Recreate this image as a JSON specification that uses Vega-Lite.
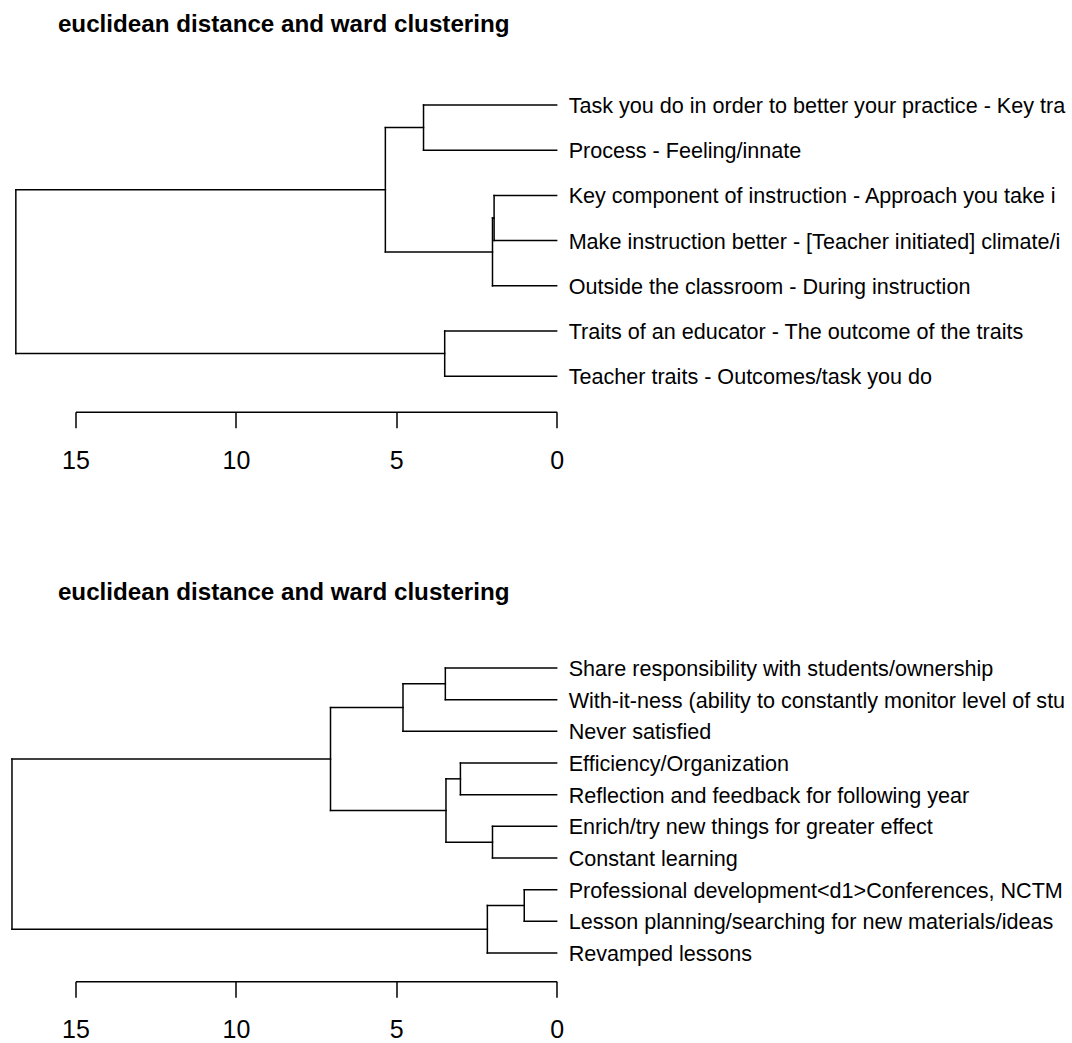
{
  "$schema": "https://vega.github.io/schema/vega-lite/v6.json",
  "background": "white",
  "padding": {"left": 10.5, "top": 12, "right": 0, "bottom": 0},
  "config": {
    "view": {"stroke": null},
    "font": "Liberation Sans",
    "axisX": {
      "title": null,
      "grid": false,
      "labelFont": "Liberation Sans",
      "labelFontSize": 25,
      "labelColor": "black",
      "labelPadding": 20.5,
      "labelFlush": false,
      "labelOverlap": false,
      "tickSize": 16,
      "tickColor": "black",
      "tickWidth": 1.5,
      "domainColor": "black",
      "domainWidth": 1.5
    }
  },
  "bounds": "flush",
  "spacing": 209.3,
  "datasets": {
    "topSeg": [
      {"h": 4.15, "h2": 4.15, "p": 1, "p2": 2},
      {"h": 0, "h2": 4.15, "p": 1, "p2": 1},
      {"h": 0, "h2": 4.15, "p": 2, "p2": 2},
      {"h": 1.95, "h2": 1.95, "p": 3, "p2": 4},
      {"h": 0, "h2": 1.95, "p": 3, "p2": 3},
      {"h": 0, "h2": 1.95, "p": 4, "p2": 4},
      {"h": 2.0, "h2": 2.0, "p": 3.5, "p2": 5},
      {"h": 1.95, "h2": 2.0, "p": 3.5, "p2": 3.5},
      {"h": 0, "h2": 2.0, "p": 5, "p2": 5},
      {"h": 5.34, "h2": 5.34, "p": 1.5, "p2": 4.25},
      {"h": 4.15, "h2": 5.34, "p": 1.5, "p2": 1.5},
      {"h": 2.0, "h2": 5.34, "p": 4.25, "p2": 4.25},
      {"h": 3.49, "h2": 3.49, "p": 6, "p2": 7},
      {"h": 0, "h2": 3.49, "p": 6, "p2": 6},
      {"h": 0, "h2": 3.49, "p": 7, "p2": 7},
      {"h": 16.86, "h2": 16.86, "p": 2.875, "p2": 6.5},
      {"h": 5.34, "h2": 16.86, "p": 2.875, "p2": 2.875},
      {"h": 3.49, "h2": 16.86, "p": 6.5, "p2": 6.5}
    ],
    "topLeaf": [
      {"pos": 1, "label": "Task you do in order to better your practice - Key traits"},
      {"pos": 2, "label": "Process - Feeling/innate"},
      {"pos": 3, "label": "Key component of instruction - Approach you take in instruction"},
      {"pos": 4, "label": "Make instruction better - [Teacher initiated] climate/interactions"},
      {"pos": 5, "label": "Outside the classroom - During instruction"},
      {"pos": 6, "label": "Traits of an educator - The outcome of the traits"},
      {"pos": 7, "label": "Teacher traits - Outcomes/task you do"}
    ],
    "botSeg": [
      {"h": 3.47, "h2": 3.47, "p": 1, "p2": 2},
      {"h": 0, "h2": 3.47, "p": 1, "p2": 1},
      {"h": 0, "h2": 3.47, "p": 2, "p2": 2},
      {"h": 4.79, "h2": 4.79, "p": 1.5, "p2": 3},
      {"h": 3.47, "h2": 4.79, "p": 1.5, "p2": 1.5},
      {"h": 0, "h2": 4.79, "p": 3, "p2": 3},
      {"h": 3.0, "h2": 3.0, "p": 4, "p2": 5},
      {"h": 0, "h2": 3.0, "p": 4, "p2": 4},
      {"h": 0, "h2": 3.0, "p": 5, "p2": 5},
      {"h": 2.0, "h2": 2.0, "p": 6, "p2": 7},
      {"h": 0, "h2": 2.0, "p": 6, "p2": 6},
      {"h": 0, "h2": 2.0, "p": 7, "p2": 7},
      {"h": 3.45, "h2": 3.45, "p": 4.5, "p2": 6.5},
      {"h": 3.0, "h2": 3.45, "p": 4.5, "p2": 4.5},
      {"h": 2.0, "h2": 3.45, "p": 6.5, "p2": 6.5},
      {"h": 7.05, "h2": 7.05, "p": 2.25, "p2": 5.5},
      {"h": 4.79, "h2": 7.05, "p": 2.25, "p2": 2.25},
      {"h": 3.45, "h2": 7.05, "p": 5.5, "p2": 5.5},
      {"h": 1.01, "h2": 1.01, "p": 8, "p2": 9},
      {"h": 0, "h2": 1.01, "p": 8, "p2": 8},
      {"h": 0, "h2": 1.01, "p": 9, "p2": 9},
      {"h": 2.16, "h2": 2.16, "p": 8.5, "p2": 10},
      {"h": 1.01, "h2": 2.16, "p": 8.5, "p2": 8.5},
      {"h": 0, "h2": 2.16, "p": 10, "p2": 10},
      {"h": 16.98, "h2": 16.98, "p": 3.875, "p2": 9.25},
      {"h": 7.05, "h2": 16.98, "p": 3.875, "p2": 3.875},
      {"h": 2.16, "h2": 16.98, "p": 9.25, "p2": 9.25}
    ],
    "botLeaf": [
      {"pos": 1, "label": "Share responsibility with students/ownership"},
      {"pos": 2, "label": "With-it-ness (ability to constantly monitor level of student understanding)"},
      {"pos": 3, "label": "Never satisfied"},
      {"pos": 4, "label": "Efficiency/Organization"},
      {"pos": 5, "label": "Reflection and feedback for following year"},
      {"pos": 6, "label": "Enrich/try new things for greater effect"},
      {"pos": 7, "label": "Constant learning"},
      {"pos": 8, "label": "Professional development<d1>Conferences, NCTM"},
      {"pos": 9, "label": "Lesson planning/searching for new materials/ideas"},
      {"pos": 10, "label": "Revamped lessons"}
    ]
  },
  "vconcat": [
    {
      "width": 481.15,
      "height": 350.7,
      "title": {
        "text": "euclidean distance and ward clustering",
        "anchor": "start",
        "frame": "group",
        "font": "Liberation Sans",
        "fontSize": 24.2,
        "fontWeight": "bold",
        "color": "black",
        "baseline": "top",
        "offset": 24.2,
        "dx": -17.6
      },
      "layer": [
        {
          "data": {"name": "topSeg"},
          "mark": {"type": "rule", "color": "black", "strokeWidth": 1.5, "strokeCap": "square"},
          "encoding": {
            "x": {"field": "h", "type": "quantitative", "scale": {"domain": [15, 0], "nice": false, "zero": false}, "axis": {"values": [15, 10, 5, 0], "format": "d"}},
            "x2": {"field": "h2"},
            "y": {"field": "p", "type": "quantitative", "scale": {"domain": [7.785, 0.0265], "nice": false, "zero": false}, "axis": null},
            "y2": {"field": "p2"}
          }
        },
        {
          "data": {"name": "topLeaf"},
          "mark": {"type": "text", "align": "left", "baseline": "middle", "dx": 12, "dy": 2, "fontSize": 21.6, "font": "Liberation Sans", "color": "black", "limit": 504, "ellipsis": " "},
          "encoding": {
            "x": {"datum": 0, "type": "quantitative"},
            "y": {"field": "pos", "type": "quantitative"},
            "text": {"field": "label"}
          }
        }
      ]
    },
    {
      "width": 481.15,
      "height": 360,
      "title": {
        "text": "euclidean distance and ward clustering",
        "anchor": "start",
        "frame": "group",
        "font": "Liberation Sans",
        "fontSize": 24.2,
        "fontWeight": "bold",
        "color": "black",
        "baseline": "top",
        "offset": 15.8,
        "dx": -17.6
      },
      "layer": [
        {
          "data": {"name": "botSeg"},
          "mark": {"type": "rule", "color": "black", "strokeWidth": 1.5, "strokeCap": "square"},
          "encoding": {
            "x": {"field": "h", "type": "quantitative", "scale": {"domain": [15, 0], "nice": false, "zero": false}, "axis": {"values": [15, 10, 5, 0], "format": "d"}},
            "x2": {"field": "h2"},
            "y": {"field": "p", "type": "quantitative", "scale": {"domain": [10.893, -0.4746], "nice": false, "zero": false}, "axis": null},
            "y2": {"field": "p2"}
          }
        },
        {
          "data": {"name": "botLeaf"},
          "mark": {"type": "text", "align": "left", "baseline": "middle", "dx": 12, "dy": 2, "fontSize": 21.6, "font": "Liberation Sans", "color": "black", "limit": 504, "ellipsis": " "},
          "encoding": {
            "x": {"datum": 0, "type": "quantitative"},
            "y": {"field": "pos", "type": "quantitative"},
            "text": {"field": "label"}
          }
        }
      ]
    }
  ]
}
